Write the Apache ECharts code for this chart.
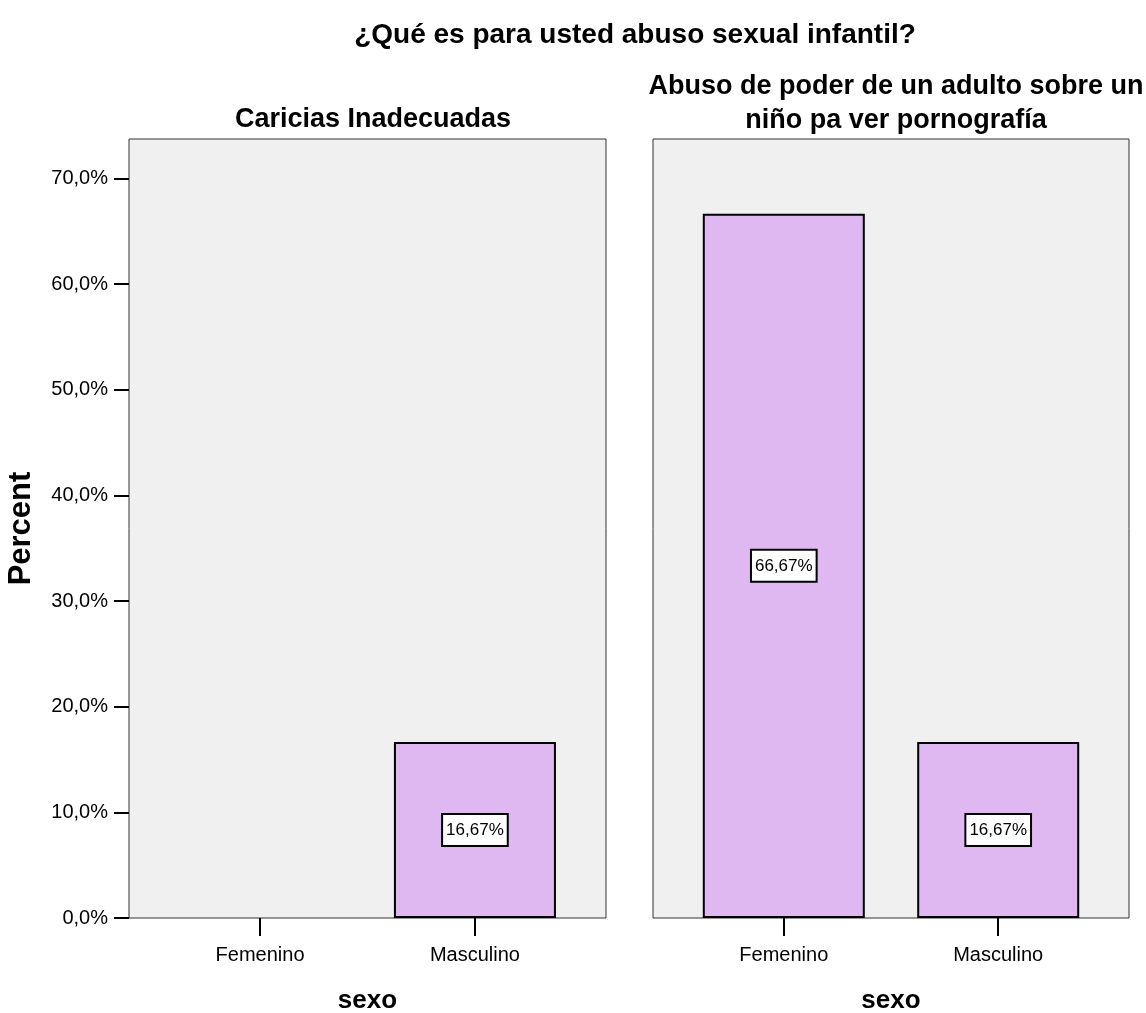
<!DOCTYPE html>
<html>
<head>
<meta charset="utf-8">
<script src="https://cdn.jsdelivr.net/npm/echarts@6/dist/echarts.min.js"></script>
<style>
html,body{margin:0;padding:0;background:#fff;}
#main{width:1146px;height:1013px;}
</style>
</head>
<body>
<div id="main"></div>
<script>
const mainTitle = '¿Qué es para usted abuso sexual infantil?';
const panelTitles = ['Caricias Inadecuadas', 'Abuso de poder de un adulto sobre un\nniño pa ver pornografía'];
const categories = ['Femenino', 'Masculino'];
const valuesCaricias = [null, 16.67];
const valuesAbuso = [66.67, 16.67];
const yTicks = [0, 10, 20, 30, 40, 50, 60, 70];
const yMax = 73.74;

const FONT = '"Liberation Sans", Arial, sans-serif';
const chart = echarts.init(document.getElementById('main'), null, {renderer: 'canvas'});

function fmtPct(v, d) { return v.toFixed(d).replace('.', ',') + '%'; }

function xAxisFor(gi) {
  return {
    type: 'value', gridIndex: gi, min: -0.61, max: 1.61,
    axisLine: {show: false, onZero: false},
    splitLine: {show: false},
    axisTick: {show: true, customValues: categories.map((c, i) => i), length: 18, lineStyle: {color: '#000', width: 2}},
    axisLabel: {show: true, customValues: categories.map((c, i) => i), formatter: v => categories[Math.round(v)] || '',
      color: '#000', fontSize: 20, fontFamily: FONT, margin: 27},
    name: 'sexo', nameLocation: 'middle', nameGap: 70,
    nameTextStyle: {color: '#000', fontSize: 26, fontWeight: 'bold', fontFamily: FONT}
  };
}
function yAxisFor(gi, showLabels) {
  return {
    type: 'value', gridIndex: gi, min: 0, max: yMax, interval: 10,
    axisLine: {show: false, onZero: false},
    splitLine: {show: false},
    axisTick: {show: showLabels, customValues: yTicks, length: 15, lineStyle: {color: '#000', width: 2}},
    axisLabel: {show: showLabels, customValues: yTicks, formatter: v => fmtPct(v, 1),
      color: '#000', fontSize: 20, fontFamily: FONT, margin: 21},
    name: showLabels ? 'Percent' : '', nameLocation: 'middle', nameGap: 92, nameRotate: 90,
    nameTextStyle: {color: '#000', fontSize: 31, fontWeight: 'bold', fontFamily: FONT}
  };
}
function barSeries(gi, vals) {
  return {
    type: 'bar', xAxisIndex: gi, yAxisIndex: gi, barWidth: 162,
    data: vals.map((v, i) => [i, v]),
    itemStyle: {color: '#dfb8f2', borderColor: '#000', borderWidth: 2},
    label: {show: true, position: 'inside', formatter: p => p.value[1] == null ? '' : fmtPct(p.value[1], 2),
      color: '#000', fontSize: 17, fontFamily: FONT, backgroundColor: '#fff', borderColor: '#000', borderWidth: 2,
      padding: [7, 3, 6, 3]},
    animation: false
  };
}

chart.setOption({
  animation: false,
  title: [
    {text: mainTitle, left: 630, top: 16, textAlign: 'center',
      textStyle: {fontSize: 28, fontWeight: 'bold', color: '#000', fontFamily: FONT}},
    {text: panelTitles[0], left: 368, top: 101, textAlign: 'center',
      textStyle: {fontSize: 27, fontWeight: 'bold', color: '#000', fontFamily: FONT}},
    {text: panelTitles[1], left: 891, top: 65, textAlign: 'center',
      textStyle: {fontSize: 27, fontWeight: 'bold', color: '#000', fontFamily: FONT, lineHeight: 34}}
  ],
  grid: [
    {left: 129, right: 540, top: 139, bottom: 95, outerBoundsMode: 'none', containLabel: false,
      show: true, backgroundColor: '#f0f0f0', borderColor: '#333', borderWidth: 1},
    {left: 653, right: 17, top: 139, bottom: 95, outerBoundsMode: 'none', containLabel: false,
      show: true, backgroundColor: '#f0f0f0', borderColor: '#333', borderWidth: 1}
  ],
  xAxis: [xAxisFor(0), xAxisFor(1)],
  yAxis: [yAxisFor(0, true), yAxisFor(1, false)],
  series: [barSeries(0, valuesCaricias), barSeries(1, valuesAbuso)]
});
</script>
</body>
</html>
